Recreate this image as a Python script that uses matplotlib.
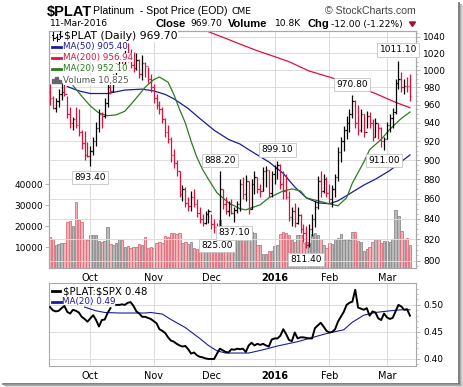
import numpy as np
import pandas as pd
import matplotlib
matplotlib.use('Agg')
import matplotlib.pyplot as plt
from matplotlib.lines import Line2D
from matplotlib.patches import Rectangle, Polygon
from matplotlib.ticker import FixedLocator, FuncFormatter, NullFormatter

W, H = 464, 387

# trading days on the chart
holidays = ['2015-11-26', '2015-12-25', '2016-01-01', '2016-01-18', '2016-02-15']
days = pd.bdate_range('2015-09-11', '2016-03-11')
days = days[~days.isin(pd.to_datetime(holidays))]
xi = np.arange(len(days))

month_labels = ['Oct', 'Nov', 'Dec', '2016', 'Feb', 'Mar']

# daily bars
high = [984, 970, 968, 978, 985, 984, 970, 958, 947, 958,
        955, 932, 931, 919, 915, 925, 941, 955, 952, 968,
        985, 986, 995, 1008, 1020, 1018, 1025, 1032, 1025, 1022,
        1020, 1013, 1018, 1010, 1004, 995, 984, 972, 965, 958,
        945, 938, 925, 912, 900, 888, 874, 872, 862, 868,
        870, 860, 852, 845, 848, 850, 845, 840, 836, 888.2,
        870, 862, 858, 860, 852, 858, 880, 882, 884, 878,
        880, 888, 882, 875, 893, 894, 890, 888, 895, 899.1,
        896, 888, 885, 868, 852, 856, 852, 845, 835, 833,
        835, 845, 858, 883, 888, 885, 882, 875, 874, 885,
        914, 925, 937, 948, 955, 970.8, 966, 960, 955, 950,
        953, 952, 944, 945, 940, 936, 925, 941, 950, 957,
        990, 1011.1, 998, 990, 992, 996]
low = [960, 955, 952, 958, 966, 970, 945, 935, 932, 935,
       926, 912, 900, 903, 893.4, 905, 915, 930, 935, 945,
       958, 972, 975, 985, 998, 1000, 1003, 1010, 1002, 998,
       1000, 991, 988, 992, 985, 975, 962, 955, 950, 940,
       925, 918, 898, 892, 883, 862, 858, 852, 848, 848,
       852, 842, 836, 833, 835, 836, 830, 826, 825, 830,
       850, 845, 843, 845, 837.1, 846, 848, 860, 858, 845,
       850, 865, 866, 862, 868, 872, 862, 862, 875, 880,
       870, 860, 860, 838, 833, 832, 835, 826, 818, 811.4,
       813, 823, 832, 850, 862, 866, 862, 856, 852, 862,
       878, 898, 910, 922, 930, 945, 935, 927, 930, 925,
       935, 935, 920, 925, 922, 914, 911, 922, 930, 935,
       950, 978, 975, 972, 975, 965]
close = [968, 957, 964, 972, 975, 972, 950, 940, 944, 938,
         930, 918, 905, 904, 910, 920, 935, 950, 948, 962,
         980, 976, 990, 1002, 1012, 1005, 1018, 1015, 1006, 1002,
         1012, 995, 1008, 1005, 990, 980, 968, 960, 955, 944,
         930, 922, 905, 897, 888, 865, 870, 856, 853, 862,
         855, 846, 840, 836, 845, 848, 835, 832, 830, 870,
         855, 848, 855, 846, 849, 855, 875, 865, 878, 850,
         875, 882, 870, 868, 888, 890, 866, 885, 892, 895,
         875, 868, 862, 842, 848, 836, 844, 830, 826, 815,
         830, 840, 852, 878, 868, 880, 866, 860, 870, 882,
         908, 920, 932, 940, 950, 965, 940, 932, 950, 930,
         948, 940, 925, 940, 935, 920, 922, 938, 945, 952,
         985, 990, 980, 982, 981.7, 969.7]
first_open = 975

volume = [15000, 14000, 11000, 11500, 12000, 12000, 22000, 22500, 20000, 31400,
          23000, 21800, 13700, 13500, 15600, 15600, 15500, 13000, 12500, 13000,
          19400, 11500, 11000, 12000, 14000, 13500, 10000, 10500, 9500, 10000,
          10200, 11500, 11200, 14600, 9500, 9800, 9300, 12000, 12200, 11800,
          15300, 15000, 16500, 16800, 16200, 16500, 12000, 12200, 11500, 12500,
          9500, 9200, 10500, 10800, 8300, 8000, 8500, 9000, 10500, 22800,
          12000, 12500, 13000, 12800, 13200, 14000, 14500, 13800, 14200, 17600,
          17000, 16500, 11000, 10800, 6500, 6800, 8000, 8200, 10500, 10800,
          16000, 17000, 16800, 15500, 13500, 12500, 15700, 15500, 12000, 12500,
          12000, 16000, 16500, 15500, 14000, 11000, 9500, 12000, 11500, 14000,
          14500, 16000, 13500, 13800, 13500, 17200, 17200, 13000, 12500, 8000,
          9000, 10000, 12500, 14000, 13800, 12000, 13000, 12800, 12500, 14000,
          27500, 25000, 17600, 13700, 14500, 10825]

# moving averages, read at points along the lines (day index, value)
ma50_idx = [6, 10, 14, 20, 26, 32, 36, 40, 43, 48, 52, 57, 62, 66, 69, 76,
            81, 85, 89, 93, 97, 100, 104, 109, 113, 118, 121, 125]
ma50_val = [981, 976, 973, 973, 977, 978, 976, 972, 967, 956, 945, 932,
            922, 917, 911, 898, 886, 872, 861, 856, 855, 858, 865, 874, 880, 889,
            896, 905.4]
ma200_idx = [53, 58, 61, 66, 72, 78, 83, 90, 97, 106, 113, 120, 125]
ma200_val = [1049, 1042, 1038, 1031, 1023, 1016, 1010, 999, 992, 982, 973, 963, 956.94]
ma20_idx = [8, 11, 14, 17, 20, 23, 26, 30, 33, 36, 38, 41, 43, 45, 47, 49,
            51, 53, 55, 58, 62, 66, 68, 73, 76, 81, 84, 87, 89, 93, 97, 100, 103,
            105, 109, 111, 115, 118, 122, 125]
ma20_val = [982, 970, 959, 951, 948, 949, 953, 968, 980, 989, 992, 986,
            972, 955, 940, 920, 903, 890, 880, 866, 856, 850, 849, 854, 861, 868,
            870, 868, 861, 858, 855, 853, 861, 876, 898, 911, 922, 933, 945, 952.1]

# $PLAT:$SPX ratio (nan = missing day)
ratio = [0.496, 0.490, 0.488, 0.489, 0.494, 0.498, 0.487, 0.484, 0.491, 0.489,
         0.486, 0.478, 0.474, 0.469, 0.475, 0.481, 0.472, 0.460, 0.472, 0.473,
         0.485, 0.494, np.nan, 0.500, 0.500, 0.501, 0.500, 0.504, 0.505, 0.498,
         0.488, 0.484, 0.478, 0.478, 0.476, 0.474, 0.470, 0.466, 0.455, 0.452,
         0.448, 0.440, 0.434, 0.432, 0.428, 0.425, 0.423, 0.424, 0.418, 0.410,
         0.412, 0.407, 0.404, 0.403, 0.401, 0.400, 0.400, 0.400, 0.410, 0.419,
         0.416, 0.413, 0.412, 0.418, 0.417, 0.419, 0.418, 0.419, 0.413, 0.425,
         0.430, 0.425, 0.428, 0.426, 0.428, 0.425, 0.423, 0.436, 0.438, 0.438,
         0.443, 0.455, 0.446, 0.435, 0.433, 0.449, 0.438, 0.440, 0.440, 0.439,
         0.438, 0.438, 0.457, 0.462, 0.467, 0.460, 0.452, 0.449, 0.450, 0.455,
         0.469, 0.478, 0.487, 0.500, 0.504, 0.506, 0.528, 0.495, 0.493, 0.491,
         0.494, 0.480, 0.488, 0.486, 0.475, 0.472, 0.484, 0.477, 0.474, 0.476,
         0.488, 0.500, 0.497, 0.491, 0.492, 0.480]
rma_idx = [12, 16, 19, 24, 33, 35, 39, 42, 47, 52, 55, 58, 61, 69, 74, 79, 86, 90,
           96, 102, 105, 109, 113, 118, 122, 125]
rma_val = [0.496, 0.489, 0.486, 0.485, 0.485, 0.486, 0.483, 0.473, 0.458, 0.438,
           0.425, 0.415, 0.411, 0.411, 0.417, 0.424, 0.432, 0.438, 0.447, 0.454,
           0.468, 0.481, 0.486, 0.489, 0.491, 0.491]

# high/low call-outs: (day index, value, above?)
callouts = [(14, 893.4, False), (58, 825.0, False), (59, 888.2, True), (64, 837.1, False),
            (79, 899.1, True), (89, 811.4, False), (105, 970.8, True), (116, 911.0, False),
            (121, 1011.1, True)]

RED = '#e0103c'
NAVY = '#1c1c9c'
GREEN = '#2b7d1e'
GRID = '#dcdcdc'
SPINE = '#a8a8a8'
TICKF = 'DejaVu Sans'


def fx(x):
    return x / W


def fy(y):
    return 1 - y / H


fig = plt.figure(figsize=(W / 100, H / 100), dpi=100)
fig.patch.set_facecolor('white')

ax_vol = fig.add_axes([fx(49), fy(268), fx(416) - fx(49), fy(31) - fy(268)])
ax = ax_vol.twinx()
ax_r = fig.add_axes([fx(49), fy(366), fx(416) - fx(49), fy(283) - fy(366)])

opens = [first_open] + close[:-1]
prev = [first_open] + close[:-1]
up = [c >= p for c, p in zip(close, prev)]
bar_col = ['black' if u else RED for u in up]

# volume
vfill = ['#b9b9b9' if u else '#f1b3b7' for u in up]
vedge = ['#8c8c8c' if u else '#e06a78' for u in up]
ax_vol.bar(xi, volume, width=0.85, color=vfill, edgecolor=vedge, linewidth=0.6, zorder=1)
ax_vol.set_ylim(0, 113000)
ax_vol.set_yticks([10000, 20000, 30000, 40000])
ax_vol.set_yticklabels(['10000', '20000', '30000', '40000'])

# price bars
ax.set_yscale('log')
ax.vlines(xi, low, high, colors=bar_col, linewidth=0.9, zorder=3)
ax.hlines(opens, xi - 0.45, xi, colors=bar_col, linewidth=0.9, zorder=3)
ax.hlines(close, xi, xi + 0.45, colors=bar_col, linewidth=0.9, zorder=3)
ax.plot(ma200_idx, ma200_val, color=RED, lw=0.9, zorder=2)
ax.plot(ma50_idx, ma50_val, color=NAVY, lw=0.9, zorder=2)
ax.plot(ma20_idx, ma20_val, color=GREEN, lw=0.9, zorder=2)
ax.set_ylim(793, 1047)
pt = list(range(800, 1041, 20))
ax.yaxis.set_major_locator(FixedLocator(pt))
ax.yaxis.set_major_formatter(FuncFormatter(lambda v, p: '%d' % round(v)))
ax.yaxis.set_minor_locator(FixedLocator(list(range(795, 1046, 5))))
ax.yaxis.set_minor_formatter(NullFormatter())
ax.grid(axis='y', which='major', color=GRID, lw=0.7, zorder=0)

for i, v, above in callouts:
    ax.annotate('%.2f' % v, xy=(i, v), xytext=(0, 11 if above else -11),
                textcoords='offset pixels', ha='center', va='center',
                fontsize=6.5, family=TICKF, zorder=6,
                bbox=dict(boxstyle='square,pad=0.25', fc='white', ec='#c4c4c4', lw=0.6))

month_pos = []
for m in [10, 11, 12, 1, 2, 3]:
    month_pos.append(int(np.argmax(days.month == m)))

for a in (ax_vol, ax_r):
    a.set_xlim(-0.35, 127.1)
    a.set_xticks(month_pos)
    a.set_xticklabels(month_labels)
    a.grid(axis='x', color=GRID, lw=0.7)
    a.tick_params(axis='x', length=0, pad=3.5, labelsize=7)
    for lab in a.get_xticklabels():
        lab.set_family(TICKF)
        if lab.get_text() == '2016':
            lab.set_fontweight('bold')
for a in (ax_vol, ax, ax_r):
    for s in a.spines.values():
        s.set_color(SPINE)
        s.set_linewidth(0.8)

ax_vol.tick_params(axis='y', length=3, width=0.6, color=SPINE, pad=1, labelsize=6.5)
ax.tick_params(axis='y', which='major', length=3, width=0.6, color=SPINE, pad=2, labelsize=6.5)
ax.tick_params(axis='y', which='minor', length=1.5, width=0.5, color=SPINE)
for lab in ax_vol.get_yticklabels() + ax.get_yticklabels():
    lab.set_family(TICKF)

# ratio panel
ax_r.plot(xi, ratio, color='black', lw=1.4, zorder=3)
ax_r.plot(rma_idx, rma_val, color=NAVY, lw=0.8, zorder=2)
ax_r.set_ylim(0.387, 0.5405)
ax_r.yaxis.tick_right()
ax_r.set_yticks([0.40, 0.45, 0.50])
ax_r.set_yticklabels(['0.40', '0.45', '0.50'])
ax_r.yaxis.set_minor_locator(FixedLocator([0.39, 0.41, 0.42, 0.43, 0.44, 0.46, 0.47, 0.48, 0.49, 0.51, 0.52, 0.53]))
ax_r.grid(axis='y', color=GRID, lw=0.7)
ax_r.tick_params(axis='y', which='major', length=3, width=0.6, color=SPINE, pad=2, labelsize=6.5)
ax_r.tick_params(axis='y', which='minor', length=1.5, width=0.5, color=SPINE)
for lab in ax_r.get_yticklabels():
    lab.set_family(TICKF)

# header
fig.text(fx(47), fy(12), r'\$PLAT', fontsize=10.5, fontweight='bold', family='Liberation Sans', va='center')
fig.text(fx(93), fy(11.5), 'Platinum  - Spot Price (EOD)', fontsize=7.6, family='Liberation Sans', va='center')
fig.text(fx(232), fy(11.5), 'CME', fontsize=6.6, family=TICKF, va='center')
fig.text(fx(416), fy(11.5), '\u00a9 StockCharts.com', fontsize=7.6, family='Liberation Sans',
         color='#444444', va='center', ha='right')
fig.text(fx(50), fy(24), '11-Mar-2016', fontsize=6.6, family=TICKF, va='center')
fig.text(fx(155), fy(24), 'Close', fontsize=8, fontweight='bold', family='Liberation Sans', va='center')
fig.text(fx(190), fy(24), '969.70', fontsize=6.6, family=TICKF, va='center')
fig.text(fx(228), fy(24), 'Volume', fontsize=8, fontweight='bold', family='Liberation Sans', va='center')
fig.text(fx(275), fy(24), '10.8K', fontsize=6.6, family=TICKF, va='center')
fig.text(fx(308), fy(24), 'Chg', fontsize=8, fontweight='bold', family='Liberation Sans', va='center')
fig.text(fx(331), fy(24), '-12.00 (-1.22%)', fontsize=6.6, family=TICKF, va='center')
fig.add_artist(Polygon([(fx(409.5), fy(22)), (fx(415.5), fy(22)), (fx(412.5), fy(26.5))],
                       closed=True, color='#a8102c', transform=fig.transFigure))

# legends
box = dict(boxstyle='square,pad=0.05', fc='white', ec='none')
fig.text(fx(64), fy(36), r'\$PLAT (Daily) 969.70', fontsize=7.8, family=TICKF, va='center', bbox=box, zorder=5)
for k, (t, c) in enumerate([('MA(50) 905.40', NAVY), ('MA(200) 956.94', RED), ('MA(20) 952.10', GREEN)]):
    yy = 46.5 + 11 * k
    fig.text(fx(63), fy(yy), t, fontsize=6.3, family=TICKF, color=c, va='center', bbox=box, zorder=5)
    fig.add_artist(Line2D([fx(52), fx(61)], [fy(yy), fy(yy)], color=c, lw=2, transform=fig.transFigure, zorder=6))
fig.text(fx(63), fy(80), 'Volume 10,825', fontsize=6.3, family=TICKF, color='#555555', va='center', bbox=box, zorder=5)
for bx, bh in [(52.5, 4), (55.5, 6), (58.5, 3)]:
    fig.add_artist(Rectangle((fx(bx), fy(83)), fx(2.2), fy(83 - bh) - fy(83), color='#666666',
                             transform=fig.transFigure, zorder=6))
# small ohlc icon
for bx, y0, y1 in [(53.5, 32, 40), (57.5, 34, 41), (60.5, 31, 38)]:
    fig.add_artist(Line2D([fx(bx), fx(bx)], [fy(y1), fy(y0)], color='black', lw=0.8, transform=fig.transFigure, zorder=6))
    fig.add_artist(Line2D([fx(bx - 1.2), fx(bx)], [fy(y0 + 3), fy(y0 + 3)], color='black', lw=0.8, transform=fig.transFigure, zorder=6))
    fig.add_artist(Line2D([fx(bx), fx(bx + 1.2)], [fy(y1 - 2), fy(y1 - 2)], color='black', lw=0.8, transform=fig.transFigure, zorder=6))

fig.text(fx(63), fy(291), r'\$PLAT:\$SPX 0.48', fontsize=7.3, family=TICKF, va='center', zorder=5)
fig.add_artist(Line2D([fx(52), fx(60)], [fy(291), fy(291)], color='black', lw=2, transform=fig.transFigure))
fig.text(fx(62), fy(301.5), 'MA(20) 0.49', fontsize=6.3, family=TICKF, color=NAVY, va='center', zorder=5)
fig.add_artist(Line2D([fx(52), fx(61)], [fy(301.5), fy(301.5)], color=NAVY, lw=2, transform=fig.transFigure))

# frame shadow
for off, col in [(0, '#6a6a6a'), (1.5, '#9a9a9a'), (3, '#d0d0d0')]:
    fig.add_artist(Line2D([fx(459.5 + off), fx(459.5 + off)], [fy(3 + off), fy(383.5 + off)],
                          color=col, lw=1.2, transform=fig.transFigure))
    fig.add_artist(Line2D([fx(3 + off), fx(459.5 + off)], [fy(383.5 + off), fy(383.5 + off)],
                          color=col, lw=1.2, transform=fig.transFigure))

fig.savefig('out.png', dpi=100, facecolor='white')
